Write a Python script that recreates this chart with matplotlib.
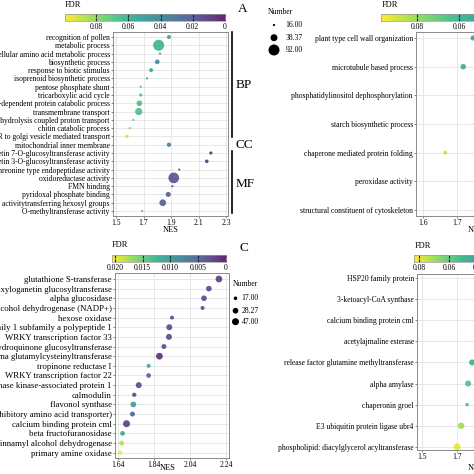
import numpy as np
import matplotlib
matplotlib.use("Agg")
import matplotlib.pyplot as plt
from matplotlib.colors import Normalize
from matplotlib.cm import ScalarMappable

plt.rcParams['font.family'] = ['Liberation Serif', 'DejaVu Serif']

# ---------------- data ----------------
a_terms = ["recognition of pollen", "metabolic process", "cellular amino acid metabolic process",
           "biosynthetic process", "response to biotic stimulus", "isoprenoid biosynthetic process",
           "pentose phosphate shunt", "tricarboxylic acid cycle",
           "ubiquitin-dependent protein catabolic process", "transmembrane transport",
           "ATP hydrolysis coupled proton transport", "chitin catabolic process",
           "ER to golgi vesicle mediated transport", "mitochondrial inner membrane",
           "quercetin 7-O-glucosyltransferase activity", "quercetin 3-O-glucosyltransferase activity",
           "threonine type endopeptidase activity", "oxidoreductase activity", "FMN binding",
           "pyridoxal phosphate binding", "transferase activitytransferring hexosyl groups",
           "O-methyltransferase activity"]
a_nes = [1.885, 1.81, 1.82, 1.80, 1.755, 1.725, 1.68, 1.68, 1.67, 1.665, 1.625, 1.60, 1.58,
         1.885, 2.19, 2.16, 1.96, 1.92, 1.91, 1.88, 1.84, 1.69]
a_fdr = [0.052, 0.060, 0.046, 0.040, 0.055, 0.055, 0.065, 0.066, 0.066, 0.066, 0.072, 0.080, 0.092,
         0.034, 0.006, 0.008, 0.014, 0.016, 0.016, 0.020, 0.022, 0.068]
a_number = [19, 92, 16, 22, 19, 16, 16, 17, 28, 41, 16, 16, 17, 20, 17, 18, 16, 87, 16, 24, 36, 16]
a_groups = ["BP", "CC", "MF"]
a_legend = [16.00, 38.37, 92.00]
a_fdr_max = 0.0994
a_xticks = [1.5, 1.7, 1.9, 2.1, 2.3]
a_cticks = [0.08, 0.06, 0.04, 0.02, 0]
a_clabels = ["0.08", "0.06", "0.04", "0.02", "0"]

b_terms = ["plant type cell wall organization", "microtubule based process",
           "phosphatidylinositol dephosphorylation", "starch biosynthetic process",
           "chaperone mediated protein folding", "peroxidase activity",
           "structural constituent of cytoskeleton"]
b_nes = [1.747, 1.718, 1.85, 1.757, 1.665, 1.90, 1.95]
b_fdr = [0.050, 0.056, 0.030, 0.090, 0.088, 0.020, 0.010]
b_number = [16, 18, 20, 20, 12, 25, 30]
b_fdr_max = 0.0971
b_xticks = [1.6, 1.7, 1.8, 1.9, 2.0]
b_cticks = [0.08, 0.06, 0.04, 0.02, 0]
b_clabels = ["0.08", "0.06", "0.04", "0.02", "0"]

c_terms = ["glutathione S-transferase", "7 deoxyloganetin glucosyltransferase", "alpha glucosidase",
           "alcohol dehydrogenase (NADP+)", "hexose oxidase",
           "cytochrome P450 family 1 subfamily a polypeptide 1", "WRKY transcription factor 33",
           "hydroquinone glucosyltransferase", "gamma glutamylcysteinyltransferase",
           "tropinone reductase I", "WRKY transcription factor 22",
           "S-phase kinase-associated protein 1", "calmodulin", "flavonol synthase",
           "solute carrier family 32 (vesicular inhibitory amino acid transporter)",
           "calcium binding protein cml", "beta fructofuranosidase",
           "cinnamyl alcohol dehydrogenase", "primary amine oxidase"]
c_nes = [2.201, 2.145, 2.118, 2.11, 1.94, 1.925, 1.923, 1.895, 1.87, 1.81, 1.81, 1.755, 1.73,
         1.725, 1.72, 1.687, 1.665, 1.66, 1.653]
c_fdr = [0.002, 0.003, 0.003, 0.003, 0.003, 0.003, 0.003, 0.003, 0.001, 0.011, 0.005, 0.003,
         0.003, 0.010, 0.005, 0.002, 0.011, 0.018, 0.020]
c_number = [42, 28, 28, 17.4, 17.4, 32, 32, 22, 42, 17.4, 20, 32, 18.3, 28, 22, 47, 20, 22, 18]
c_legend = [17.00, 28.27, 47.00]
c_fdr_max = 0.0205
c_xticks = [1.64, 1.84, 2.04, 2.24]
c_cticks = [0.020, 0.015, 0.010, 0.005, 0]
c_clabels = ["0.020", "0.015", "0.010", "0.005", "0"]

d_terms = ["HSP20 family protein", "3-ketoacyl-CoA synthase", "calcium binding protein cml",
           "acetylajmaline esterase", "release factor glutamine methyltransferase", "alpha amylase",
           "chaperonin groel", "E3 ubiquitin protein ligase ubr4",
           "phospholipid: diacylglycerol acyltransferase"]
d_nes = [2.10, 2.00, 1.95, 1.90, 1.786, 1.763, 1.757, 1.723, 1.70]
d_fdr = [0.010, 0.020, 0.030, 0.040, 0.050, 0.056, 0.056, 0.070, 0.080]
d_number = [30, 25, 20, 18, 21, 21, 11, 24, 28]
d_fdr_max = 0.0833
d_xticks = [1.5, 1.7, 1.9, 2.1]
d_cticks = [0.08, 0.06, 0.04, 0.02, 0]
d_clabels = ["0.08", "0.06", "0.04", "0.02", "0"]

# ---------------- layout helpers ----------------
W = H = 474
fig = plt.figure(figsize=(4.74, 4.74), dpi=100)
FS = 5.5


def px_axes(l, t, r, b, **kw):
    return fig.add_axes([l / W, 1 - b / H, (r - l) / W, (b - t) / H], **kw)


def dot_size(n, nmin, nmax, dmin, dmax):
    n = np.asarray(n, dtype=float)
    d = dmin + (dmax - dmin) * np.sqrt(np.clip((n - nmin) / (nmax - nmin), 0, 1))
    return (d * 0.72) ** 2


def panel(box, terms, nes, fdr, number, fdr_max, xlim, pad, xticks, xtl, size_args, lab_fs):
    ax = px_axes(*box)
    y = np.arange(len(terms))
    ax.scatter(nes, y, s=dot_size(number, *size_args), c=fdr, cmap='viridis',
               norm=Normalize(0, fdr_max), alpha=0.8, edgecolors='none', zorder=3, clip_on=True)
    ax.set_xlim(*xlim)
    ax.set_ylim(len(terms) - 1 + pad[1], -pad[0])
    ax.set_yticks(y)
    ax.set_yticklabels(terms, fontsize=lab_fs)
    ax.set_xticks(xticks)
    ax.set_xticklabels(xtl, fontsize=FS)
    ax.grid(True, color='#e3e3e3', linewidth=0.6, zorder=0)
    ax.set_axisbelow(True)
    for sp in ax.spines.values():
        sp.set_color('#8a8a8a')
        sp.set_linewidth(0.7)
    ax.tick_params(axis='both', length=1.5, width=0.5, color='#555555', pad=0.8)
    ax.tick_params(axis='x', pad=0.5)
    ax.set_xlabel("NES", fontsize=6)
    return ax


def colorbar(box, fdr_max, ticks, labels):
    cax = px_axes(*box)
    sm = ScalarMappable(norm=Normalize(0, fdr_max), cmap='viridis')
    cb = fig.colorbar(sm, cax=cax, orientation='horizontal')
    cb.solids.set_alpha(0.85)
    cb.outline.set_edgecolor('#999999')
    cb.outline.set_linewidth(0.5)
    cax.invert_xaxis()
    cb.set_ticks(ticks)
    cb.set_ticklabels(labels)
    cax.tick_params(axis='x', direction='in', length=2.0, width=0.8, color='#222222',
                    top=True, bottom=True, labelsize=FS, pad=1.5)
    return cax


# ---------------- panel A ----------------
axA = panel((113, 32, 228, 216), a_terms, a_nes, a_fdr, a_number, a_fdr_max,
            (1.478, 2.3145), (0.6, 0.6), a_xticks, ["1.5", "1.7", "1.9", "2.1", "2.3"],
            (16, 92, 2.2, 11), FS)
axA.xaxis.set_label_coords(0.5, -(230 - 216) / 184)
axA.xaxis.label.set_va('center')
tr = axA.get_yaxis_transform()
axA.plot([1.035, 1.035], [-0.55, 12.05], color='black', lw=1.2, transform=tr, clip_on=False)
axA.plot([1.035, 1.035], [13.75, 21.25], color='black', lw=1.2, transform=tr, clip_on=False)
for g, yy in zip(a_groups, [5.8, 13.0, 17.7]):
    axA.text(1.065, yy, g, transform=tr, fontsize=9.5, va='center', ha='left')
colorbar((65, 14, 225, 21), a_fdr_max, a_cticks, a_clabels)

# ---------------- panel B ----------------
axB = panel((416, 32, 640, 216), b_terms, b_nes, b_fdr, b_number, b_fdr_max,
            (1.579, 2.238), (0.21, 0.21), b_xticks, ["1.6", "1.7", "1.8", "1.9", "2.0"],
            (10, 60, 2.5, 10), FS)
axB.xaxis.set_label_coords((468 - 416) / 224, -(230 - 216) / 184)
axB.xaxis.label.set_ha('left')
axB.xaxis.label.set_va('center')
colorbar((381, 14, 585, 21), b_fdr_max, b_cticks, b_clabels)

# ---------------- panel C ----------------
axC = panel((115, 273, 229, 458), c_terms, c_nes, c_fdr, c_number, c_fdr_max,
            (1.623, 2.257), (0.62, 0.55), c_xticks, ["1.64", "1.84", "2.04", "2.24"],
            (17, 47, 3.6, 7.0), 6.3)
axC.xaxis.set_label_coords((168 - 115) / 114, -(468 - 458) / 185)
axC.xaxis.label.set_va('center')
colorbar((112, 255, 226, 262), c_fdr_max, c_cticks, c_clabels)

# ---------------- panel D ----------------
axD = panel((417, 274, 640, 450), d_terms, d_nes, d_fdr, d_number, d_fdr_max,
            (1.471, 2.745), (0.19, 0.15), d_xticks, ["1.5", "1.7", "1.9", "2.1"],
            (10, 60, 2.5, 10), FS)
axD.xaxis.set_label_coords((468 - 417) / 223, -(468 - 450) / 176)
axD.xaxis.label.set_ha('left')
axD.xaxis.label.set_va('center')
colorbar((414, 255, 539, 262), d_fdr_max, d_cticks, d_clabels)

# ---------------- overlay texts / legends ----------------
ov = fig.add_axes([0, 0, 1, 1], facecolor='none')
ov.set_xlim(0, W)
ov.set_ylim(H, 0)
ov.axis('off')

ov.text(65, 5, "FDR", fontsize=6, ha='left', va='center')
ov.text(382, 4.5, "FDR", fontsize=6, ha='left', va='center')
ov.text(112, 245, "FDR", fontsize=6, ha='left', va='center')
ov.text(415, 246, "FDR", fontsize=6, ha='left', va='center')

ov.text(243, 9, "A", fontsize=9.5, ha='center', va='center')
ov.text(244, 248, "C", fontsize=9.5, ha='center', va='center')

# Number legends
ov.text(268, 12, "Number", fontsize=FS, ha='left', va='center')
ly = [25, 37.7, 50]
ov.scatter([274] * 3, ly, s=dot_size(a_legend, 16, 92, 2.2, 11), color='black',
           edgecolors='none')
for v, yy in zip(a_legend, ly):
    ov.text(285.7, yy, f"{v:.2f}", fontsize=FS, ha='left', va='center')

ov.text(232.7, 284, "Number", fontsize=FS, ha='left', va='center')
ly = [298.3, 310.7, 321.7]
ov.scatter([235.5] * 3, ly, s=dot_size(c_legend, 17, 47, 3.6, 7.0), color='black',
           edgecolors='none')
for v, yy in zip(c_legend, ly):
    ov.text(241.7, yy, f"{v:.2f}", fontsize=FS, ha='left', va='center')

fig.savefig("out.png", dpi=100)
